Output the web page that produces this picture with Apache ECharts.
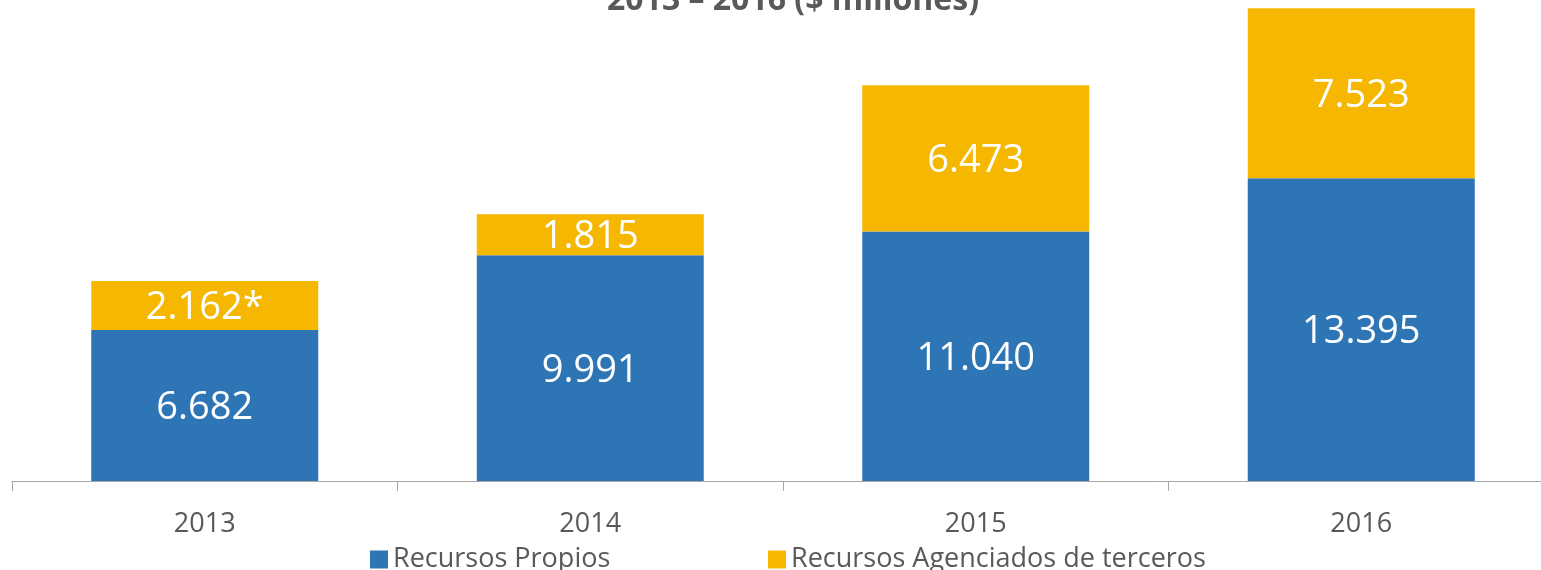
<!DOCTYPE html>
<html>
<head>
<meta charset="utf-8">
<script src="https://cdn.jsdelivr.net/npm/echarts@6/dist/echarts.min.js"></script>
<style>
  html, body { margin: 0; padding: 0; background: #fff; }
  #chart { width: 1541px; height: 570px; }
</style>
</head>
<body>
<div id="chart"></div>
<script>
const years = ['2013', '2014', '2015', '2016'];
const propios = [6682, 9991, 11040, 13395];
const terceros = [2162, 1815, 6473, 7523];
const tercerosLabels = ['2.162*', '1.815', '6.473', '7.523'];

function fmt(v) {
    return String(v).replace(/\B(?=(\d{3})+(?!\d))/g, '.');
}

const myChart = echarts.init(document.getElementById('chart'));
const font = '"Open Sans", "Noto Sans", sans-serif';
const option = {
    animation: false,
    title: {
        text: '2013 – 2016 ($ millones)',
        left: 602,
        top: -20,
        textStyle: {
            fontFamily: font,
            fontWeight: 'bold',
            fontSize: 32,
            color: '#595959'
        }
    },
    legend: [{
        left: 365,
        top: 541,
        icon: 'rect',
        itemWidth: 18,
        itemHeight: 18,
        data: ['Recursos Propios'],
        textStyle: {fontFamily: font, fontSize: 27, color: '#595959'}
    }, {
        left: 763,
        top: 541,
        icon: 'rect',
        itemWidth: 18,
        itemHeight: 18,
        data: ['Recursos Agenciados de terceros'],
        textStyle: {fontFamily: font, fontSize: 27, color: '#595959'}
    }],
    grid: {
        left: 12,
        right: -13,
        top: 0,
        bottom: 89,
        outerBoundsMode: 'none',
        containLabel: false
    },
    xAxis: {
        type: 'category',
        data: years,
        axisLine: {show: true, lineStyle: {color: '#a6a6a6', width: 1}},
        axisTick: {show: true, length: 10, lineStyle: {color: '#a6a6a6'}},
        axisLabel: {
            margin: 30,
            fontFamily: font,
            fontSize: 27,
            color: '#595959'
        }
    },
    yAxis: {
        type: 'value',
        min: 0,
        max: 21280,
        show: false,
        splitLine: {show: false}
    },
    series: [
        {
            name: 'Recursos Propios',
            type: 'bar',
            stack: 'total',
            barWidth: 227,
            itemStyle: {color: '#2E75B6'},
            label: {
                show: true,
                position: 'inside',
                offset: [0, 3],
                fontFamily: font,
                fontSize: 38,
                color: '#ffffff',
                formatter: function (p) { return fmt(p.value); }
            },
            data: propios
        },
        {
            name: 'Recursos Agenciados de terceros',
            type: 'bar',
            stack: 'total',
            barWidth: 227,
            itemStyle: {color: '#F6B700'},
            label: {
                show: true,
                position: 'inside',
                offset: [0, 3],
                fontFamily: font,
                fontSize: 38,
                color: '#ffffff',
                formatter: function (p) { return tercerosLabels[p.dataIndex]; }
            },
            data: terceros
        }
    ]
};
myChart.setOption(option);
</script>
</body>
</html>
